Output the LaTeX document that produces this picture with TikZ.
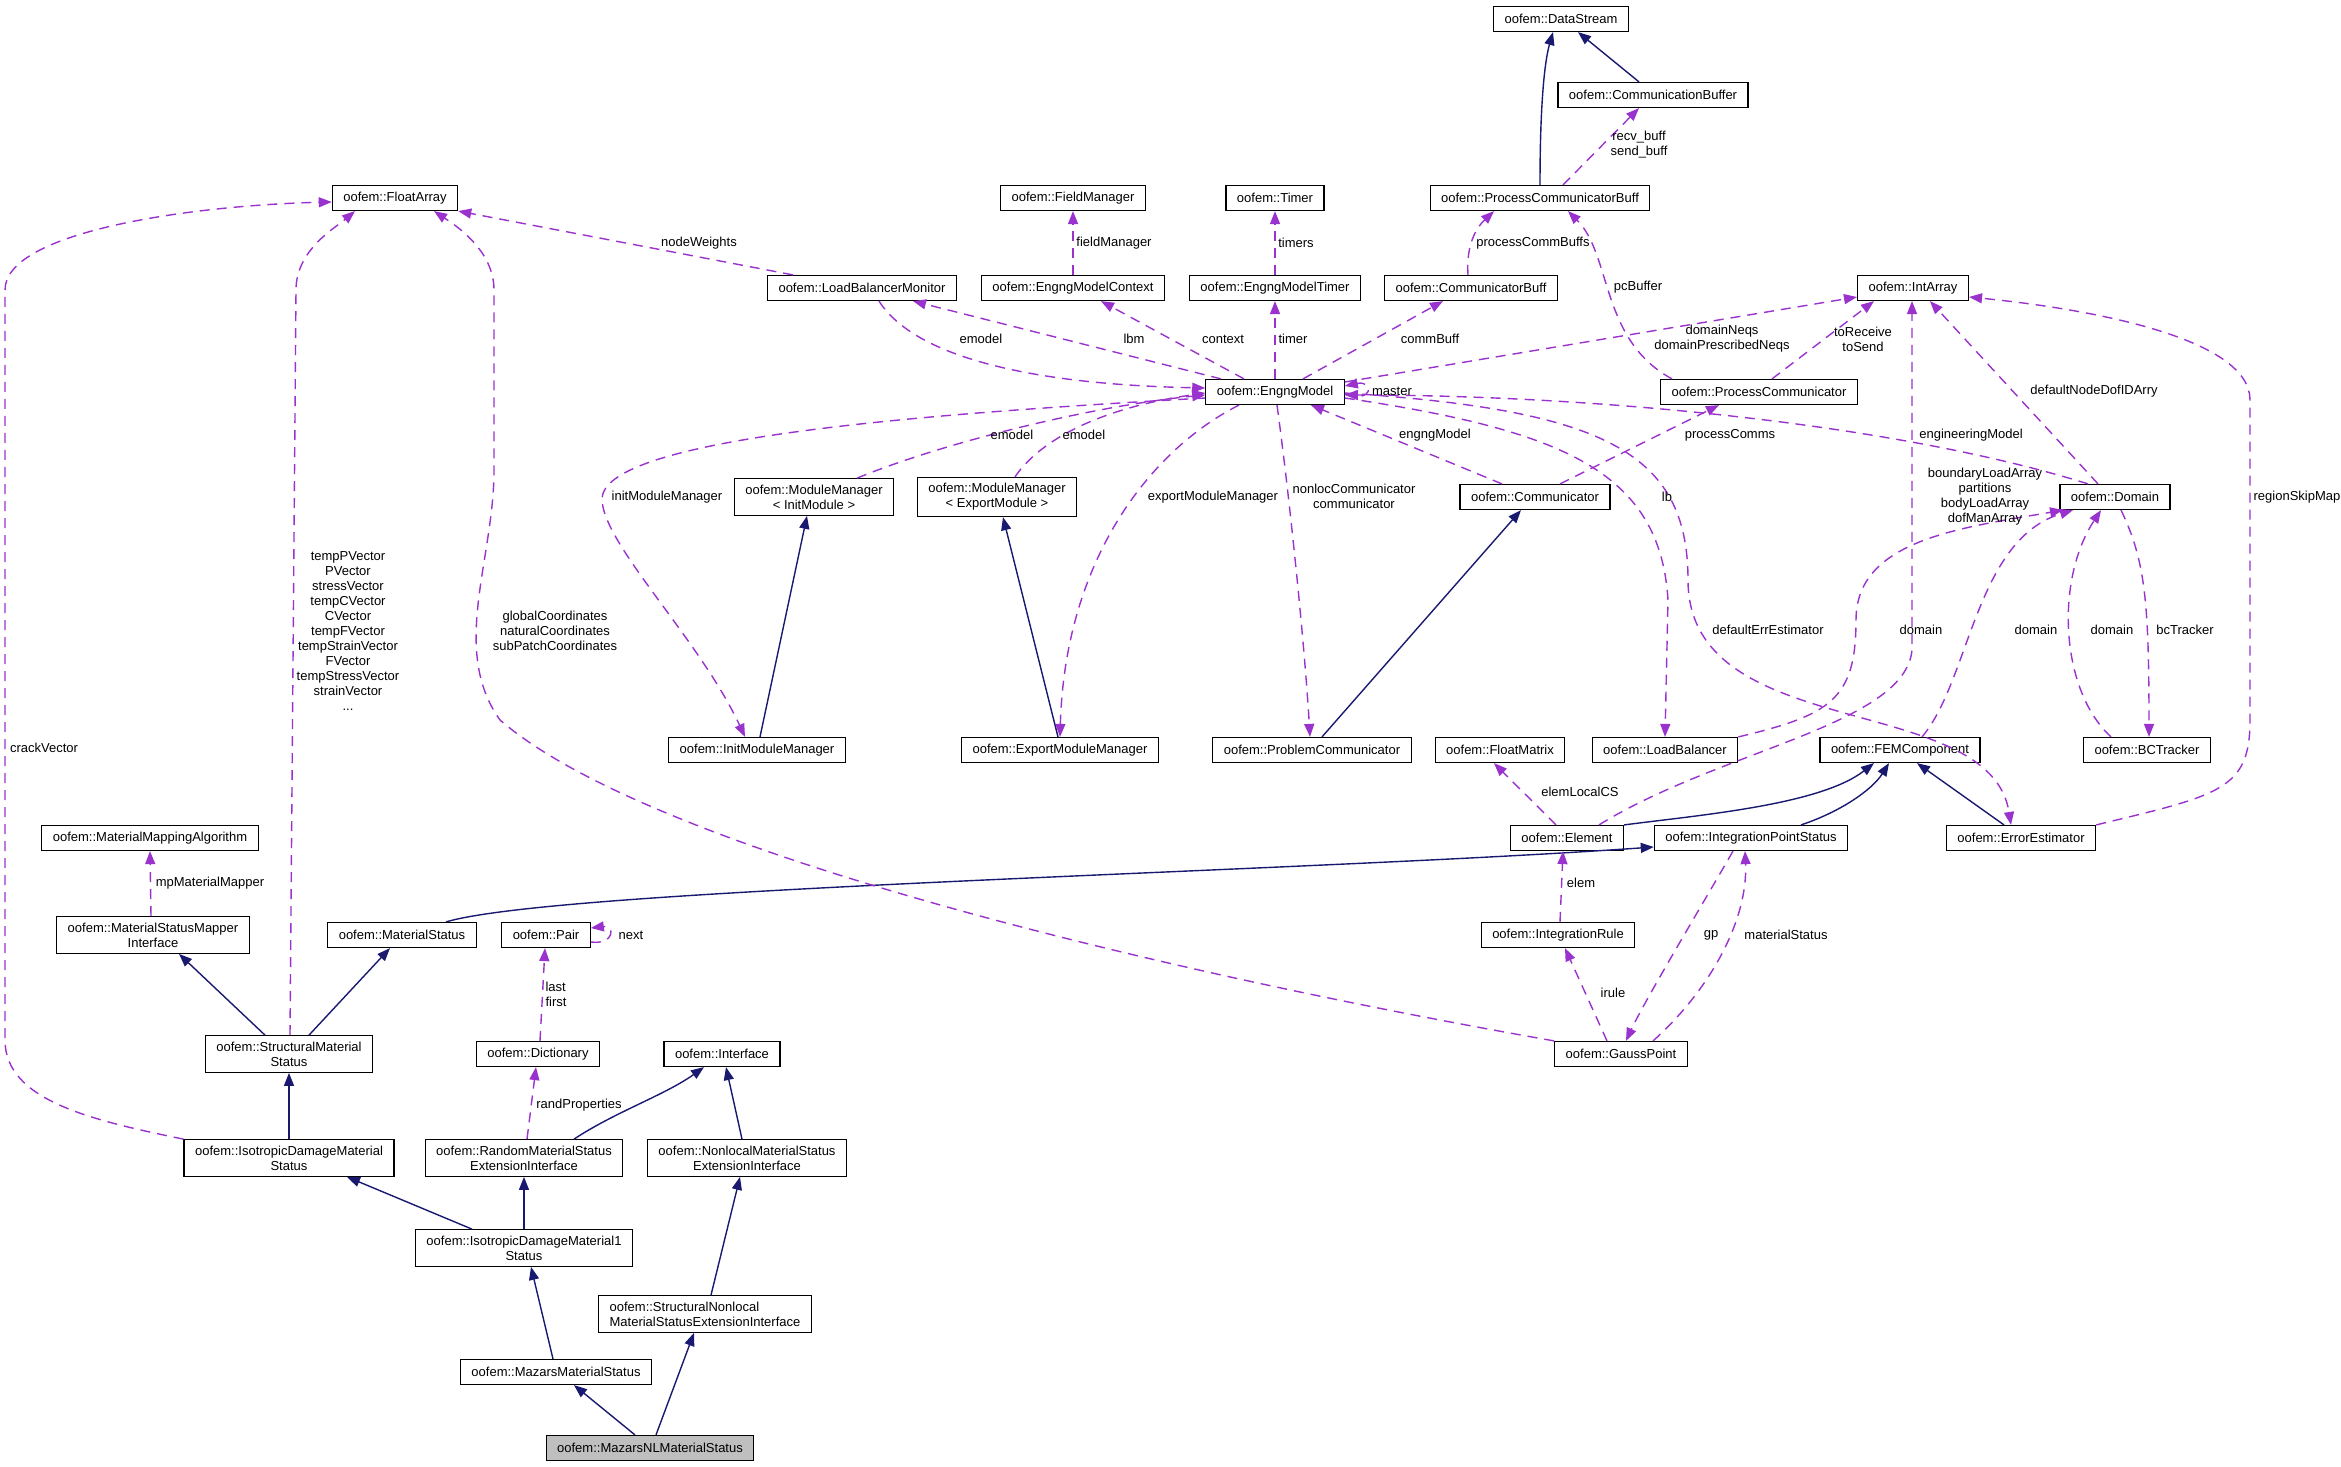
\documentclass[tikz,border=0pt]{standalone}
\usepackage{fontspec}
\setmainfont{Liberation Sans}
\usepackage{tikz}
\usetikzlibrary{arrows.meta}

\definecolor{inhblue}{HTML}{191970}
\definecolor{mempurple}{HTML}{9A32CD}
\newcommand{\clsfont}{\fontsize{6.5pt}{7.5pt}\selectfont}

\begin{document}
\begin{tikzpicture}[
   x=0.5pt, y=-0.5pt,
   cls/.style={draw, fill=white, line width=0.6pt, font=\clsfont,
      inner xsep=5.5pt, inner ysep=3pt, minimum height=12.5pt, align=center},
   maincls/.style={cls, fill=black!25},
   lbl/.style={font=\clsfont, inner sep=0pt, align=center},
   inherit/.style={draw=inhblue, line width=0.7pt,
      -{Triangle[length=6.5pt,width=5pt]}},
   member/.style={draw=mempurple, line width=0.7pt, dash pattern=on 5pt off 3.5pt,
      -{Triangle[length=6.5pt,width=5pt]}}
]
   \useasboundingbox (0,0) rectangle (2341,1467);

   \node[cls] (dstream) at (1561,19) {oofem::DataStream};
   \node[cls] (combuf) at (1653,95) {oofem::CommunicationBuffer};
   \node[cls] (farray) at (395,198) {oofem::FloatArray};
   \node[cls] (fieldman) at (1073,198) {oofem::FieldManager};
   \node[cls] (timer) at (1275,198) {oofem::Timer};
   \node[cls] (pcbuff) at (1540,198) {oofem::ProcessCommunicatorBuff};
   \node[cls] (lbmon) at (862,288) {oofem::LoadBalancerMonitor};
   \node[cls] (emctx) at (1073,288) {oofem::EngngModelContext};
   \node[cls] (emtimer) at (1275,288) {oofem::EngngModelTimer};
   \node[cls] (cbuff) at (1471,288) {oofem::CommunicatorBuff};
   \node[cls] (iarray) at (1913,288) {oofem::IntArray};
   \node[cls] (emodel) at (1275,392) {oofem::EngngModel};
   \node[cls] (pcomm) at (1759,392) {oofem::ProcessCommunicator};
   \node[cls] (mminit) at (814,497) {oofem::ModuleManager\\< InitModule >};
   \node[cls] (mmexport) at (997,497) {oofem::ModuleManager\\< ExportModule >};
   \node[cls] (comm) at (1535,497) {oofem::Communicator};
   \node[cls] (domain) at (2115,497) {oofem::Domain};
   \node[cls] (initmm) at (757,750) {oofem::InitModuleManager};
   \node[cls] (exportmm) at (1060,750) {oofem::ExportModuleManager};
   \node[cls] (probcomm) at (1312,750) {oofem::ProblemCommunicator};
   \node[cls] (fmatrix) at (1500,750) {oofem::FloatMatrix};
   \node[cls] (lbal) at (1665,750) {oofem::LoadBalancer};
   \node[cls] (femcomp) at (1900,750) {oofem::FEMComponent};
   \node[cls] (bctrack) at (2147,750) {oofem::BCTracker};
   \node[cls] (mmalgo) at (150,838) {oofem::MaterialMappingAlgorithm};
   \node[cls] (element) at (1567,838) {oofem::Element};
   \node[cls] (ipstatus) at (1751,838) {oofem::IntegrationPointStatus};
   \node[cls] (errest) at (2021,838) {oofem::ErrorEstimator};
   \node[cls] (msmapper) at (153,935) {oofem::MaterialStatusMapper\\Interface};
   \node[cls] (mstatus) at (402,935) {oofem::MaterialStatus};
   \node[cls] (pair) at (546,935) {oofem::Pair};
   \node[cls] (irule) at (1558,935) {oofem::IntegrationRule};
   \node[cls] (smstatus) at (289,1054) {oofem::StructuralMaterial\\Status};
   \node[cls] (dict) at (538,1054) {oofem::Dictionary};
   \node[cls] (iface) at (722,1054) {oofem::Interface};
   \node[cls] (gpoint) at (1621,1054) {oofem::GaussPoint};
   \node[cls] (idmstatus) at (289,1158) {oofem::IsotropicDamageMaterial\\Status};
   \node[cls] (rmsei) at (524,1158) {oofem::RandomMaterialStatus\\ExtensionInterface};
   \node[cls] (nlmsei) at (747,1158) {oofem::NonlocalMaterialStatus\\ExtensionInterface};
   \node[cls] (idm1status) at (524,1248) {oofem::IsotropicDamageMaterial1\\Status};
   \node[cls,align=left] (snlmsei) at (705,1314) {oofem::StructuralNonlocal\\MaterialStatusExtensionInterface};
   \node[cls] (mazars) at (556,1372) {oofem::MazarsMaterialStatus};
   \node[maincls] (mazarsnl) at (650,1448) {oofem::MazarsNLMaterialStatus};

   % inheritance
   \draw[inherit] (pcbuff.north) .. controls (1540,100) and (1545,60) .. ([xshift=-4pt]dstream.south);
   \draw[inherit] ([xshift=-7pt]combuf.north) -- ([xshift=8.5pt]dstream.south);
   \draw[inherit] ([xshift=1.5pt]initmm.north) -- ([xshift=-3.5pt]mminit.south);
   \draw[inherit] ([xshift=-1pt]exportmm.north) -- ([xshift=3pt]mmexport.south);
   \draw[inherit] ([xshift=5pt]probcomm.north) -- ([xshift=-7pt]comm.south);
   \draw[inherit] (element.north east) .. controls (1700,815) and (1820,805) .. ([xshift=-13pt]femcomp.south);
   \draw[inherit] ([xshift=25pt]ipstatus.north) .. controls (1840,812) and (1872,790) .. ([xshift=-5.5pt]femcomp.south);
   \draw[inherit] ([xshift=-8.5pt]errest.north) -- ([xshift=8.5pt]femcomp.south);
   \draw[inherit] ([xshift=22pt]mstatus.north) .. controls (560,888) and (1300,872) .. ([yshift=-4.5pt]ipstatus.west);
   \draw[inherit] ([xshift=-12pt]smstatus.north) -- ([xshift=13pt]msmapper.south);
   \draw[inherit] ([xshift=10pt]smstatus.north) -- ([xshift=-6pt]mstatus.south);
   \foreach \a/\b in {idmstatus/smstatus, idm1status/rmsei}
      \draw[inherit] (\a) -- (\b);
   \draw[inherit] ([xshift=-26pt]idm1status.north) -- ([xshift=29pt]idmstatus.south);
   \draw[inherit] ([xshift=25pt]rmsei.north) .. controls (615,1112) and (665,1095) .. ([xshift=-9pt]iface.south);
   \draw[inherit] ([xshift=-2.5pt]nlmsei.north) -- ([xshift=2pt]iface.south);
   \draw[inherit] ([xshift=3pt]snlmsei.north) -- ([xshift=-3.5pt]nlmsei.south);
   \draw[inherit] ([xshift=-1.5pt]mazars.north) -- ([xshift=3.5pt]idm1status.south);
   \draw[inherit] ([xshift=-7.5pt]mazarsnl.north) -- ([xshift=9pt]mazars.south);
   \draw[inherit] ([xshift=3pt]mazarsnl.north) -- ([xshift=-5.5pt]snlmsei.south);

   % members
   \draw[member] ([xshift=11.5pt]pcbuff.north) -- ([xshift=-7pt]combuf.south);
   \foreach \a/\b in {emctx/fieldman, emtimer/timer, emodel/emtimer}
      \draw[member] (\a) -- (\b);
   \draw[member] ([xshift=-1.5pt]cbuff.north) .. controls (1466,245) and (1476,228) .. ([xshift=-23pt]pcbuff.south);
   \draw[member] ([xshift=-43.5pt]pcomm.north) .. controls (1600,340) and (1612,255) .. ([xshift=14pt]pcbuff.south);
   \draw[member] ([xshift=-34.5pt]lbmon.north) -- (farray.south east);
   \draw[member] ([xshift=-27pt]emodel.north) -- ([xshift=25.5pt]lbmon.south);
   \draw[member] ([xshift=8.5pt]lbmon.south) .. controls (920,365) and (1060,385) .. ([yshift=2pt]emodel.west);
   \draw[member] ([xshift=-15.5pt]emodel.north) -- ([xshift=14pt]emctx.south);
   \draw[member] ([xshift=14pt]emodel.north) -- ([xshift=-14pt]cbuff.south);
   \draw[member] ([yshift=5pt]emodel.east) -- ([yshift=-4.5pt]iarray.west);
   \draw[member] ([xshift=6.5pt]pcomm.north) -- ([xshift=-19.5pt]iarray.south);
   \draw[member] ([yshift=-1pt]emodel.east) .. controls (1374,404) and (1374,380) .. ([yshift=3pt]emodel.east);
   \draw[member] ([xshift=21.5pt]mminit.north) .. controls (950,440) and (1100,405) .. ([yshift=-1.5pt]emodel.west);
   \draw[member] ([xshift=9pt]mmexport.north) .. controls (1040,440) and (1100,408) .. ([yshift=-0.5pt]emodel.west);
   \draw[member] ([xshift=-16.5pt]comm.north) -- ([xshift=18pt]emodel.south);
   \draw[member] ([xshift=12.5pt]comm.north) -- ([xshift=-20pt]pcomm.south);
   \draw[member] ([xshift=-13.5pt]domain.north) .. controls (1900,425) and (1600,395) .. ([yshift=-1.5pt]emodel.east);
   \draw[member] ([xshift=-8.5pt]domain.north) -- ([xshift=8.5pt]iarray.south);
   \draw[member] ([xshift=16pt]element.north) .. controls (1720,750) and (1905,725) .. (1912,650) -- ([xshift=-0.5pt]iarray.south);
   \draw[member] ([yshift=-3pt]emodel.east) .. controls (1560,430) and (1660,470) .. (1668,600) -- (lbal.north);
   \draw[member] ([yshift=-0.5pt]emodel.east) .. controls (1600,410) and (1688,450) .. (1688,580)
      .. controls (1688,745) and (1990,690) .. ([xshift=-5pt]errest.north);
   \draw[member] ([xshift=3pt]domain.south) .. controls (2145,560) and (2149,600) .. ([xshift=1pt]bctrack.north);
   \draw[member] ([xshift=-18pt]bctrack.north) .. controls (2060,690) and (2055,580) .. ([xshift=-7pt]domain.south);
   \draw[member] ([xshift=11pt]femcomp.north) .. controls (1970,680) and (1975,540) .. ([xshift=-21pt]domain.south);
   \draw[member] (lbal.north east) .. controls (1830,715) and (1856,700) .. (1856,620)
      .. controls (1856,540) and (1960,528) .. ([xshift=-26pt]domain.south);
   \draw[member] (errest.north east) .. controls (2220,795) and (2250,790) .. (2250,720) -- (2250,400)
      .. controls (2250,340) and (2100,310) .. ([yshift=-4.5pt]iarray.east);
   \draw[member] ([yshift=-3pt]emodel.west) .. controls (900,415) and (600,440) .. (602,500)
      .. controls (604,545) and (700,640) .. ([xshift=-6pt]initmm.north);
   \draw[member] ([xshift=-18pt]emodel.south) .. controls (1150,450) and (1065,560) .. (exportmm.north);
   \draw[member] ([xshift=1pt]emodel.south) .. controls (1290,500) and (1305,650) .. ([xshift=-1pt]probcomm.north);
   \draw[member] ([xshift=-5.5pt]element.north) -- ([xshift=-3pt]fmatrix.south);
   \draw[member] ([xshift=1pt]irule.north) -- ([xshift=-2pt]element.south);
   \draw[member] ([xshift=-7pt]gpoint.north) -- ([xshift=3.5pt]irule.south);
   \draw[member] ([xshift=-9pt]ipstatus.south) .. controls (1705,900) and (1645,1000) .. ([xshift=2.5pt]gpoint.north);
   \draw[member] ([xshift=16pt]gpoint.north) .. controls (1710,990) and (1748,920) .. ([xshift=-3pt]ipstatus.south);
   \draw[member] (gpoint.north west) .. controls (1150,970) and (650,850) .. (500,720)
      .. controls (450,650) and (494,560) .. (494,470) -- (494,290)
      .. controls (494,250) and (455,225) .. ([xshift=19.5pt]farray.south);
   \draw[member] ([xshift=0.5pt]smstatus.north) -- (296,290) .. controls (296,250) and (335,228) .. ([xshift=-20pt]farray.south);
   \draw[member] (idmstatus.north west) .. controls (90,1120) and (5,1100) .. (5,1040) -- (5,290)
      .. controls (5,230) and (200,205) .. ([yshift=-2pt]farray.west);
   \draw[member] ([xshift=1.5pt]rmsei.north) -- ([xshift=-1pt]dict.south);
   \draw[member] ([xshift=1pt]dict.north) -- ([xshift=-0.5pt]pair.south);
   \draw[member] ([yshift=-3.5pt]pair.east) .. controls (615,945) and (615,925) .. ([yshift=3.5pt]pair.east);
   \draw[member] ([xshift=-1pt]msmapper.north) -- (mmalgo.south);

   \node[lbl] (l-recv) at (1639,145) {recv\_buff\\send\_buff};
   \node[lbl] (l-fieldman) at (1114,243) {fieldManager};
   \node[lbl] (l-timers) at (1296,243) {timers};
   \node[lbl] (l-pcbuffs) at (1533,243) {processCommBuffs};
   \node[lbl] (l-pcbuffer) at (1638,287) {pcBuffer};
   \node[lbl] (l-nodew) at (699,243) {nodeWeights};
   \node[lbl] (l-emodel1) at (981,339) {emodel};
   \node[lbl] (l-lbm) at (1134,339) {lbm};
   \node[lbl] (l-context) at (1223,339) {context};
   \node[lbl] (l-timer) at (1293,339) {timer};
   \node[lbl] (l-commbuff) at (1430,339) {commBuff};
   \node[lbl] (l-neqs) at (1722,339) {domainNeqs\\domainPrescribedNeqs};
   \node[lbl] (l-tosend) at (1863,339) {toReceive\\toSend};
   \node[lbl] (l-master) at (1392,391) {master};
   \node[lbl] (l-dofid) at (2094,391) {defaultNodeDofIDArry};
   \node[lbl] (l-emodel2) at (1012,435) {emodel};
   \node[lbl] (l-emodel3) at (1084,435) {emodel};
   \node[lbl] (l-engng) at (1435,435) {engngModel};
   \node[lbl] (l-pcomms) at (1730,435) {processComms};
   \node[lbl] (l-engmodel) at (1971,435) {engineeringModel};
   \node[lbl] (l-initmm) at (667,497) {initModuleManager};
   \node[lbl] (l-exportmm) at (1213,497) {exportModuleManager};
   \node[lbl] (l-nonloc) at (1354,496) {nonlocCommunicator\\communicator};
   \node[lbl] (l-lb) at (1667,497) {lb};
   \node[lbl] (l-bload) at (1985,497) {boundaryLoadArray\\partitions\\bodyLoadArray\\dofManArray};
   \node[lbl] (l-skip) at (2297,497) {regionSkipMap};
   \node[lbl] (l-vectors) at (348,631) {tempPVector\\PVector\\stressVector\\tempCVector\\CVector\\tempFVector\\tempStrainVector\\FVector\\tempStressVector\\strainVector\\...};
   \node[lbl] (l-coords) at (555,631) {globalCoordinates\\naturalCoordinates\\subPatchCoordinates};
   \node[lbl] (l-errest) at (1768,630) {defaultErrEstimator};
   \node[lbl] (l-dom1) at (1921,630) {domain};
   \node[lbl] (l-dom2) at (2036,630) {domain};
   \node[lbl] (l-dom3) at (2112,630) {domain};
   \node[lbl] (l-bct) at (2185,630) {bcTracker};
   \node[lbl] (l-crack) at (44,748) {crackVector};
   \node[lbl] (l-lcs) at (1580,792) {elemLocalCS};
   \node[lbl] (l-mapper) at (210,883) {mpMaterialMapper};
   \node[lbl] (l-elem) at (1581,883) {elem};
   \node[lbl] (l-next) at (631,935) {next};
   \node[lbl] (l-gp) at (1711,935) {gp};
   \node[lbl] (l-mstat) at (1786,935) {materialStatus};
   \node[lbl,align=left] (l-lastfirst) at (556,994) {last\\first};
   \node[lbl] (l-irule) at (1613,993) {irule};
   \node[lbl] (l-rand) at (579,1105) {randProperties};
\end{tikzpicture}
\end{document}
